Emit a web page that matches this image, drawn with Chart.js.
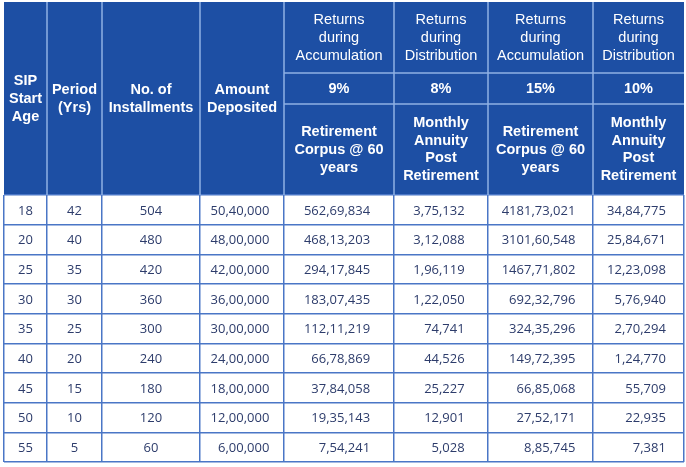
<!DOCTYPE html>
<html lang="en">
<head>
<meta charset="UTF-8">
<title>SIP Retirement Table</title>
<style>
    body { margin: 0; background: #fff; }
    canvas { display: block; }
</style>
<script src="https://cdn.jsdelivr.net/npm/chart.js"></script>
</head>
<body>
<canvas id="table" width="686" height="467"></canvas>
<script>
    // data, one array per column
    const startAges = [18, 20, 25, 30, 35, 40, 45, 50, 55];
    const periods = [42, 40, 35, 30, 25, 20, 15, 10, 5];
    const installments = [504, 480, 420, 360, 300, 240, 180, 120, 60];
    const deposited = [5040000, 4800000, 4200000, 3600000, 3000000, 2400000, 1800000, 1200000, 600000];
    const corpus9 = [56269834, 46813203, 29417845, 18307435, 11211219, 6678869, 3784058, 1935143, 754241];
    const annuity8 = [375132, 312088, 196119, 122050, 74741, 44526, 25227, 12901, 5028];
    const corpus15 = [418173021, 310160548, 146771802, 69232796, 32435296, 14972395, 6685068, 2752171, 885745];
    const annuity10 = [3484775, 2584671, 1223098, 576940, 270294, 124770, 55709, 22935, 7381];

    // header texts
    const leftHeaders = [["SIP", "Start", "Age"], ["Period", "(Yrs)"], ["No. of", "Installments"], ["Amount", "Deposited"]];
    const phaseHeaders = [
        ["Returns", "during", "Accumulation"], ["Returns", "during", "Distribution"],
        ["Returns", "during", "Accumulation"], ["Returns", "during", "Distribution"]
    ];
    const rateHeaders = ["9%", "8%", "15%", "10%"];
    const resultHeaders = [
        ["Retirement", "Corpus @ 60", "years"], ["Monthly", "Annuity", "Post", "Retirement"],
        ["Retirement", "Corpus @ 60", "years"], ["Monthly", "Annuity", "Post", "Retirement"]
    ];

    // layout
    const colWidths = [43, 55, 98, 84, 110, 94, 105, 91];
    const headerRows = [71, 31, 91];
    const headerH = headerRows.reduce((a, b) => a + b, 0);
    const colEdges = colWidths.reduce((acc, w) => { acc.push(acc[acc.length - 1] + w); return acc; }, [0]);

    const HEADER_BG = "#1d4fa4";
    const HEADER_LINE = "#8fb1e4";
    const GRID = "#4a76c6";
    const CELL_TEXT = "#2d3c6b";
    const HEAD_FONT = "'Liberation Sans', Arial, sans-serif";
    const CELL_FONT = "13px 'Open Sans', sans-serif";

    const columns = [startAges, periods, installments, deposited, corpus9, annuity8, corpus15, annuity10];

    // 562,69,834 style grouping used in the source
    function fmt(n) {
        const s = String(n);
        if (s.length <= 3) return s;
        const last3 = s.slice(-3);
        const rest = s.slice(0, -3);
        if (rest.length <= 2) return rest + "," + last3;
        return rest.slice(0, -2) + "," + rest.slice(-2) + "," + last3;
    }

    function drawLines(ctx, lines, cx, cy, lh) {
        const y0 = cy - (lines.length - 1) * lh / 2;
        lines.forEach((t, i) => ctx.fillText(t, cx, y0 + i * lh));
    }

    const tablePlugin = {
        id: "tablePlugin",
        beforeDraw(chart) {
            const { ctx, chartArea } = chart;
            ctx.save();
            ctx.fillStyle = HEADER_BG;
            ctx.fillRect(chartArea.left, chartArea.top - headerH, chartArea.right - chartArea.left, headerH);
            ctx.restore();
        },
        afterDraw(chart) {
            const { ctx, chartArea, scales: { x, y } } = chart;
            const top = chartArea.top - headerH;
            const r1 = top + headerRows[0];
            const r2 = r1 + headerRows[1];
            const px = v => x.getPixelForValue(v);

            ctx.save();
            // header dividers
            ctx.strokeStyle = HEADER_LINE;
            ctx.lineWidth = 1.5;
            ctx.beginPath();
            for (let i = 1; i < colEdges.length - 1; i++) {
                ctx.moveTo(px(colEdges[i]), top);
                ctx.lineTo(px(colEdges[i]), chartArea.top);
            }
            [r1, r2].forEach(yy => {
                ctx.moveTo(px(colEdges[4]), yy);
                ctx.lineTo(chartArea.right, yy);
            });
            ctx.stroke();

            // header text
            ctx.fillStyle = "#fff";
            ctx.textAlign = "center";
            ctx.textBaseline = "middle";
            const mid = i => (px(colEdges[i]) + px(colEdges[i + 1])) / 2;
            ctx.font = "bold 14.5px " + HEAD_FONT;
            leftHeaders.forEach((lines, i) => drawLines(ctx, lines, mid(i), (top + chartArea.top) / 2, 18));
            ctx.font = "14.5px " + HEAD_FONT;
            phaseHeaders.forEach((lines, i) => drawLines(ctx, lines, mid(i + 4), (top + r1) / 2, 18));
            ctx.font = "bold 14.5px " + HEAD_FONT;
            rateHeaders.forEach((t, i) => ctx.fillText(t, mid(i + 4), (r1 + r2) / 2));
            resultHeaders.forEach((lines, i) => drawLines(ctx, lines, mid(i + 4), (r2 + chartArea.top) / 2, lines.length > 3 ? 17.5 : 18));

            // cell text
            ctx.fillStyle = CELL_TEXT;
            ctx.font = CELL_FONT;
            columns.forEach((col, c) => {
                const texts = col.map(v => c < 3 ? String(v) : fmt(v));
                const cx = mid(c);
                let right = 0;
                if (c >= 3) {
                    const maxW = Math.max(...texts.map(t => ctx.measureText(t).width));
                    right = cx + maxW / 2 - 2;
                }
                ctx.textAlign = c < 3 ? "center" : "right";
                texts.forEach((t, r) => {
                    ctx.fillText(t, c < 3 ? cx : right, y.getPixelForValue(r) + 1);
                });
            });
            ctx.restore();
        }
    };

    new Chart(document.getElementById("table"), {
        type: "scatter",
        data: { labels: startAges.map(String), datasets: [] },
        options: {
            responsive: false,
            devicePixelRatio: 1,
            animation: false,
            layout: { padding: { left: 4, right: 2, top: 195, bottom: 5 } },
            plugins: { legend: { display: false }, tooltip: { enabled: false } },
            scales: {
                x: {
                    type: "linear",
                    min: 0,
                    max: colEdges[colEdges.length - 1],
                    offset: false,
                    afterBuildTicks: scale => { scale.ticks = colEdges.map(v => ({ value: v })); },
                    ticks: { display: false },
                    grid: { offset: false, color: GRID, lineWidth: 1.5, drawTicks: false },
                    border: { display: false }
                },
                y: {
                    type: "category",
                    offset: true,
                    ticks: { display: false },
                    grid: { offset: true, color: GRID, lineWidth: 1.5, drawTicks: false },
                    border: { display: false }
                }
            }
        },
        plugins: [tablePlugin]
    });
</script>
</body>
</html>
